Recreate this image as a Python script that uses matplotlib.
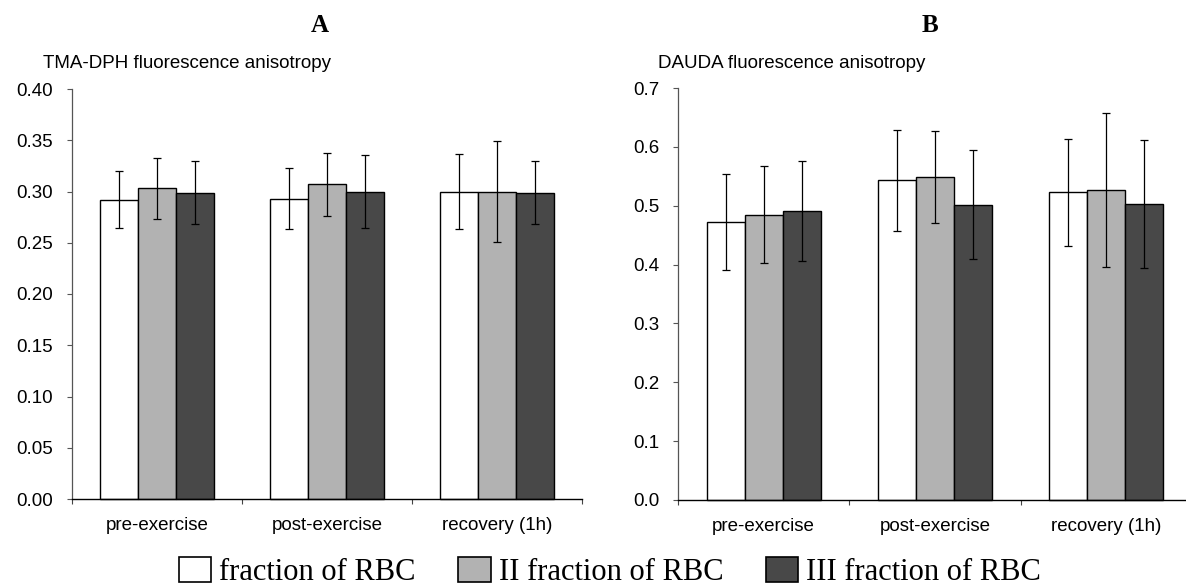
import matplotlib
matplotlib.use("Agg")
import matplotlib.pyplot as plt
from matplotlib.patches import Patch
import numpy as np

categories = ["pre-exercise", "post-exercise", "recovery (1h)"]
series_names = ["fraction of RBC", "II fraction of RBC", "III fraction of RBC"]
colors = ["#ffffff", "#b2b2b2", "#484848"]

# Panel A: TMA-DPH
tma_vals = [[0.292, 0.293, 0.300],
            [0.303, 0.307, 0.300],
            [0.299, 0.300, 0.299]]
tma_err = [[0.028, 0.030, 0.037],
           [0.030, 0.031, 0.049],
           [0.031, 0.036, 0.031]]

# Panel B: DAUDA
dauda_vals = [[0.472, 0.543, 0.523],
              [0.485, 0.549, 0.527],
              [0.491, 0.502, 0.503]]
dauda_err = [[0.082, 0.086, 0.091],
             [0.082, 0.078, 0.131],
             [0.085, 0.093, 0.109]]

tma_ticks = [0.00, 0.05, 0.10, 0.15, 0.20, 0.25, 0.30, 0.35, 0.40]
dauda_ticks = [0.0, 0.1, 0.2, 0.3, 0.4, 0.5, 0.6, 0.7]

sans = ["Liberation Sans", "DejaVu Sans"]
serif = ["Liberation Serif", "DejaVu Serif"]

fig = plt.figure(figsize=(11.86, 5.87), dpi=100)
W, H = 1186, 587
TICK_FS = 13.5

def add_panel(left_px, right_px, top_px, bot_px, vals, errs, ticks, fmt, letter, subtitle, sub_x, letter_x):
    ax = fig.add_axes([left_px / W, 1 - bot_px / H, (right_px - left_px) / W, (bot_px - top_px) / H])
    ax.patch.set_visible(False)
    x = np.arange(len(categories))
    bw = 0.222
    for i in range(3):
        ax.bar(x + (i - 1) * bw, vals[i], bw, color=colors[i], edgecolor="black",
               linewidth=1.0, zorder=2, clip_on=False)
        ax.errorbar(x + (i - 1) * bw, vals[i], yerr=errs[i], fmt="none", ecolor="black",
                    elinewidth=0.9, capsize=3, capthick=0.9, zorder=3, clip_on=False)
    ax.set_xlim(-0.5, 2.5)
    ax.set_ylim(ticks[0], ticks[-1])
    ax.set_yticks(ticks)
    ax.set_yticklabels([fmt.format(t) for t in ticks], family=sans, fontsize=TICK_FS)
    ax.set_xticks(x)
    ax.set_xticklabels(categories, family=sans, fontsize=TICK_FS)
    ax.tick_params(axis="x", which="major", length=0, pad=13)
    ax.set_xticks([-0.5, 0.5, 1.5, 2.5], minor=True)
    ax.tick_params(axis="x", which="minor", length=3.6, width=0.8, direction="out", color="#444444")
    ax.tick_params(axis="y", length=3.6, width=0.8, direction="out", color="#555555", pad=10)
    for s in ["top", "right"]:
        ax.spines[s].set_visible(False)
    ax.spines["left"].set_color("#555555")
    ax.spines["left"].set_linewidth(0.9)
    ax.spines["bottom"].set_color("black")
    ax.spines["bottom"].set_linewidth(1.0)
    fig.text(letter_x / W, 1 - 25 / H, letter, family=serif, fontweight="bold", fontsize=18,
             ha="center", va="center")
    fig.text(sub_x / W, 1 - 63 / H, subtitle, family=sans, fontsize=TICK_FS,
             ha="left", va="center")
    return ax

add_panel(72, 582, 89, 499, tma_vals, tma_err, tma_ticks, "{:.2f}", "A",
          "TMA-DPH fluorescence anisotropy", 43, 320)
add_panel(678, 1192, 88, 500, dauda_vals, dauda_err, dauda_ticks, "{:.1f}", "B",
          "DAUDA fluorescence anisotropy", 658, 930)

handles = [Patch(facecolor=c, edgecolor="black", linewidth=1.2) for c in colors]
fig.legend(handles, series_names, loc="center", bbox_to_anchor=(610 / W, 1 - 572 / H),
           ncol=3, frameon=False, prop={"family": serif, "size": 22},
           handlelength=1.05, handleheight=0.88, handletextpad=0.26, columnspacing=1.4,
           borderpad=0, borderaxespad=0)

fig.savefig("out.png", dpi=100)
